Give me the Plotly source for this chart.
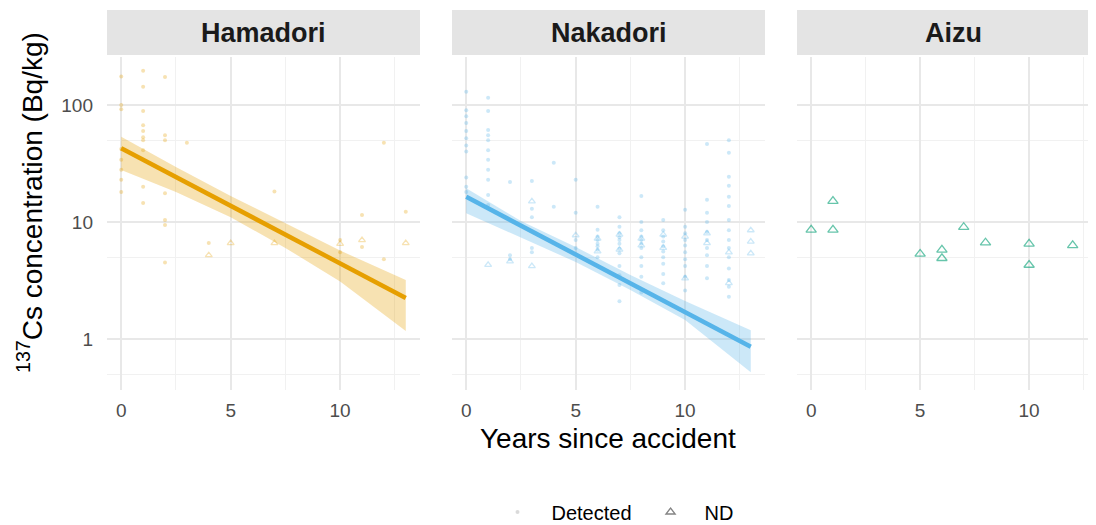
import plotly.graph_objects as go

# page body adds an 8px margin, so the figure is sized to fit and all positions are given in screen px
OFF = 8
W, H = 1096 - OFF, 525 - OFF
FONT = "Liberation Sans, Arial, sans-serif"

regions = ["Hamadori", "Nakadori", "Aizu"]
colors = {"Hamadori": "#E69F00", "Nakadori": "#56B4E9", "Aizu": "#009E73"}

ham_det_x = [0]*8 + [1]*10 + [2]*7 + [3, 4, 7, 10, 10, 11, 11, 12, 12, 13]
ham_det_y = [175, 100, 92, 42, 34, 28, 23, 18,
             196, 143, 89, 67, 60, 53, 50, 41, 20, 14.5,
             173, 55, 50, 17.6, 10.4, 9.4, 4.5,
             47.6, 6.6, 18.2, 7.0, 5.5, 11.5, 6.1, 47.6, 4.8, 12.2]
ham_nd_x = [4, 5, 7, 10, 11, 13]
ham_nd_y = [5.2, 6.6, 6.6, 6.5, 7.0, 6.6]

nak_det_x = ([0]*11 + [1]*11 + [2]*3 + [3]*5 + [4]*2 + [5]*4 + [6]*8 + [7]*12
             + [8]*11 + [9]*10 + [10]*10 + [11]*10 + [12]*15)
nak_det_y = [130, 90, 80, 70, 60, 52, 45, 40, 24, 20, 18,
             115, 89, 61, 55, 50, 41, 34, 28, 23, 17, 14,
             22, 5.2, 4.8,
             22.4, 13, 11, 6, 5.5,
             32, 13.5,
             23, 12, 7, 6,
             13.5, 8.6, 7.5, 7.0, 6.5, 6.2, 5.8, 5.0,
             11, 9.1, 8, 7.4, 7.0, 6.5, 5.9, 5.4, 4.2, 3.5, 2.9, 2.1,
             16.7, 10, 8.5, 7.5, 7, 6.5, 6, 5, 4.2, 3.4, 2.5,
             10.4, 8.5, 7.5, 6.8, 6.2, 5.6, 5.0, 4.4, 3.6, 3.0,
             12.7, 9.1, 8, 7, 6.3, 5.5, 4.8, 4.2, 3.4, 2.6,
             46.5, 15.5, 12, 10, 8.2, 7, 6, 5.2, 4.2, 3.3,
             50, 39, 24.4, 20.4, 16.4, 13.7, 10.4, 8.5, 7, 6, 5, 4, 3.2, 2.8, 2.3]
nak_nd_x = [1, 2, 3, 3, 5, 6, 6, 7, 7, 8, 8, 9, 9, 10, 10, 11, 11, 12, 12, 13, 13, 13]
nak_nd_y = [4.3, 4.6, 15, 4.2, 7.7, 7.2, 5.6, 7.8, 5.8, 7.2, 6.3, 7.8, 6.0,
            7.5, 3.3, 8.0, 6.6, 5.5, 3.0, 8.5, 6.8, 5.4]

aiz_nd_x = [0, 1, 1, 5, 6, 6, 7, 8, 10, 10, 12]
aiz_nd_y = [8.55, 15.1, 8.55, 5.33, 5.77, 4.90, 9.02, 6.65, 6.5, 4.29, 6.32]

# ---- fitted trend and confidence band ----
fit_x = [0, 2.5, 5, 7.5, 10, 13]
ham_fit = [42.7, 24.2, 13.7, 7.79, 4.42, 2.24]
ham_upper = [53.6, 29.5, 16.7, 9.70, 5.70, 3.19]
ham_lower = [27.8, 18.0, 11.0, 6.00, 3.10, 1.17]
nak_fit = [16.4, 9.33, 5.28, 2.99, 1.70, 0.859]
nak_upper = [19.4, 10.2, 6.11, 3.52, 2.11, 1.19]
nak_lower = [11.9, 7.30, 4.55, 2.62, 1.45, 0.52]

x_ticks = [0, 5, 10]
y_ticks = [1, 10, 100]
y_tick_text = ["1", "10", "100"]


def rgba(hexc, a):
    h = hexc.lstrip("#")
    return "rgba(%d,%d,%d,%.3f)" % (int(h[0:2], 16), int(h[2:4], 16), int(h[4:6], 16), a)


fig = go.Figure()

data = {
    "Hamadori": (ham_det_x, ham_det_y, ham_nd_x, ham_nd_y, ham_fit, ham_upper, ham_lower),
    "Nakadori": (nak_det_x, nak_det_y, nak_nd_x, nak_nd_y, nak_fit, nak_upper, nak_lower),
    "Aizu": ([], [], aiz_nd_x, aiz_nd_y, None, None, None),
}

for i, reg in enumerate(regions):
    xa = "x" if i == 0 else "x%d" % (i + 1)
    ya = "y" if i == 0 else "y%d" % (i + 1)
    c = colors[reg]
    dx, dy, nx, ny, fit, up, lo = data[reg]
    if fit is not None:
        fig.add_trace(go.Scatter(x=fit_x, y=lo, mode="lines", line=dict(width=0),
                                 xaxis=xa, yaxis=ya, showlegend=False, hoverinfo="skip"))
        fig.add_trace(go.Scatter(x=fit_x, y=up, mode="lines", line=dict(width=0),
                                 fill="tonexty", fillcolor=rgba(c, 0.3),
                                 xaxis=xa, yaxis=ya, showlegend=False, hoverinfo="skip"))
    if dx:
        fig.add_trace(go.Scatter(x=dx, y=dy, mode="markers",
                                 marker=dict(symbol="circle", size=4, color=rgba(c, 0.3), line=dict(width=0)),
                                 xaxis=xa, yaxis=ya, showlegend=False))
    nd_alpha = 0.6 if reg == "Aizu" else 0.3
    nd_size = 9 if reg == "Aizu" else 6
    fig.add_trace(go.Scatter(x=nx, y=ny, mode="markers",
                             marker=dict(symbol="triangle-up-open", size=nd_size,
                                         color=rgba(c, nd_alpha), line=dict(width=1.3, color=rgba(c, nd_alpha))),
                             xaxis=xa, yaxis=ya, showlegend=False))
    if fit is not None:
        fig.add_trace(go.Scatter(x=fit_x, y=fit, mode="lines", line=dict(color=c, width=4.5),
                                 xaxis=xa, yaxis=ya, showlegend=False, hoverinfo="skip"))

# legend entries
fig.add_trace(go.Scatter(x=[None], y=[None], mode="markers", name="Detected",
                         marker=dict(symbol="circle", size=4, color="rgba(150,150,150,0.35)")))
fig.add_trace(go.Scatter(x=[None], y=[None], mode="markers", name="ND",
                         marker=dict(symbol="triangle-up-open", size=8, color="rgba(100,100,100,0.8)",
                                     line=dict(width=1.3))))

px = lambda p: (p - OFF) / W
py = lambda p: 1 - (p - OFF) / H

domains = [(107, 420), (452, 765), (797, 1096)]
ranges = [[-0.65, 13.65], [-0.65, 13.65], [-0.65, 13.07]]
ydom = [py(390), py(57)]
yrange = [-0.436, 2.41]

layout = dict(
    width=W, height=H, margin=dict(l=0, r=0, t=0, b=0, autoexpand=False),
    paper_bgcolor="white", plot_bgcolor="white",
    font=dict(family=FONT, color="#000"),
    legend=dict(orientation="h", x=px(611), xanchor="center", y=py(512), yanchor="middle",
                font=dict(size=20, color="#000"), itemwidth=58, tracegroupgap=0,
                traceorder="normal"),
    showlegend=True,
)

for i in range(3):
    xk = "xaxis" if i == 0 else "xaxis%d" % (i + 1)
    yk = "yaxis" if i == 0 else "yaxis%d" % (i + 1)
    anchor_y = "y" if i == 0 else "y%d" % (i + 1)
    anchor_x = "x" if i == 0 else "x%d" % (i + 1)
    layout[xk] = dict(domain=[px(domains[i][0]), px(domains[i][1])], range=ranges[i],
                      anchor=anchor_y, tickvals=x_ticks, showgrid=True, gridcolor="#e8e8e8",
                      gridwidth=1.6, zeroline=False, showline=False, ticks="", automargin=False,
                      tickfont=dict(size=19, color="#4d4d4d", family=FONT), ticklabelstandoff=7,
                      minor=dict(tick0=0, dtick=2.5, showgrid=True, gridcolor="#f1f1f1", gridwidth=1))
    layout[yk] = dict(domain=ydom, type="log", range=yrange, anchor=anchor_x,
                      tickvals=y_ticks, ticktext=y_tick_text, showticklabels=(i == 0),
                      showgrid=True, gridcolor="#e8e8e8", gridwidth=1.6, zeroline=False,
                      showline=False, ticks="", automargin=False,
                      tickfont=dict(size=19, color="#4d4d4d", family=FONT), ticklabelstandoff=13,
                      minor=dict(tickmode="array", tickvals=[0.5, 5, 50], showgrid=True,
                                 gridcolor="#f1f1f1", gridwidth=1))

shapes = []
annotations = []
strip_centers = [(107 + 420) / 2, (452 + 765) / 2, (797 + 1110) / 2]
for i, reg in enumerate(regions):
    x0, x1 = domains[i]
    shapes.append(dict(type="rect", xref="paper", yref="paper", x0=px(x0), x1=px(x1),
                       y0=py(55), y1=py(10), fillcolor="#e4e4e4", line=dict(width=0), layer="below"))
    annotations.append(dict(text="<b>%s</b>" % reg, xref="paper", yref="paper",
                            x=px(strip_centers[i]), y=py(33),
                            showarrow=False, xanchor="center", yanchor="middle",
                            font=dict(size=27, color="#1a1a1a", family=FONT)))

annotations.append(dict(text="Years since accident", xref="paper", yref="paper",
                        x=px(608), y=py(438), showarrow=False, xanchor="center", yanchor="middle",
                        font=dict(size=28, color="#000", family=FONT)))
annotations.append(dict(text="<sup>137</sup>Cs concentration (Bq/kg)", xref="paper", yref="paper",
                        x=px(30), y=py(203), showarrow=False, xanchor="center", yanchor="middle",
                        textangle=-90, font=dict(size=28, color="#000", family=FONT)))

layout["shapes"] = shapes
layout["annotations"] = annotations
fig.update_layout(**layout)
fig.write_html("out.html")
